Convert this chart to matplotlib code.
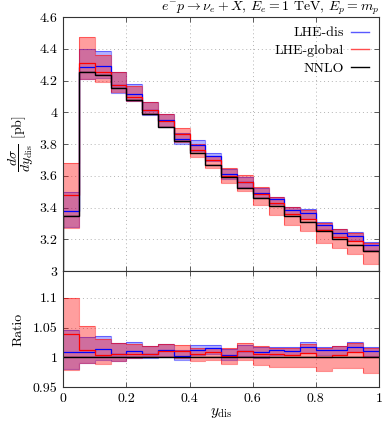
import numpy as np
import matplotlib
matplotlib.use("Agg")
import matplotlib.pyplot as plt
from matplotlib.lines import Line2D

plt.rcParams['font.family'] = ['cmr10', 'DejaVu Serif']
plt.rcParams['mathtext.fontset'] = 'cm'
plt.rcParams['axes.formatter.use_mathtext'] = True
plt.rcParams['axes.unicode_minus'] = False

# ---- data ----
edges = np.round(np.arange(21) * 0.05, 2)

nnlo = [3.346, 4.254, 4.235, 4.151, 4.077, 3.989, 3.905, 3.821, 3.745, 3.668,
        3.594, 3.521, 3.462, 3.410, 3.348, 3.307, 3.252, 3.202, 3.164, 3.128]

# ratios to NNLO
dis_c = [1.009, 1.008, 1.014, 1.005, 1.010, 1.006, 1.012, 1.002, 1.013, 1.015,
         1.004, 1.011, 1.008, 1.012, 1.011, 1.017, 1.012, 1.012, 1.018, 1.011]
dis_hi = [1.046, 1.034, 1.036, 1.024, 1.025, 1.019, 1.022, 1.012, 1.021, 1.021,
          1.014, 1.020, 1.017, 1.017, 1.017, 1.026, 1.018, 1.019, 1.026, 1.018]
dis_lo = [0.980, 0.990, 0.996, 0.993, 0.998, 0.999, 1.001, 0.995, 1.003, 1.006,
          0.996, 1.002, 0.999, 1.003, 1.003, 1.007, 1.003, 1.003, 1.009, 1.002]

glo_c = [1.039, 1.013, 1.004, 1.005, 1.005, 1.006, 1.010, 1.011, 1.005, 1.009,
         1.002, 1.011, 1.006, 1.005, 1.004, 1.007, 1.001, 1.004, 1.008, 1.000]
glo_hi = [1.100, 1.052, 1.030, 1.024, 1.022, 1.019, 1.022, 1.021, 1.015, 1.016,
          1.016, 1.024, 1.019, 1.016, 1.016, 1.023, 1.016, 1.019, 1.024, 1.016]
glo_lo = [0.978, 0.990, 0.989, 0.994, 0.998, 1.000, 1.000, 0.998, 0.993, 0.995,
          0.989, 0.996, 0.987, 0.984, 0.983, 0.984, 0.977, 0.982, 0.982, 0.973]

nnlo_err = 0.0015  # relative

nn = np.array(nnlo)
series = [
    ("LHE-dis", (0, 0, 1), 0.30, np.array(dis_c), np.array(dis_lo), np.array(dis_hi)),
    ("LHE-global", (1, 0, 0), 0.38, np.array(glo_c), np.array(glo_lo), np.array(glo_hi)),
]

W, H = 382, 424
fig = plt.figure(figsize=(W / 100, H / 100), dpi=100)
L, R = 63.3 / W, 379 / W
ax1 = fig.add_axes([L, 1 - 271 / H, R - L, (271 - 17) / H])
ax2 = fig.add_axes([L, 1 - 387 / H, R - L, (387 - 271) / H], sharex=ax1)

for ax in (ax1, ax2):
    ax.grid(True, ls=(0, (1, 3)), color='0.7', lw=0.7)
    ax.set_axisbelow(True)
    for s in ax.spines.values():
        s.set_linewidth(0.8)
        s.set_color('0.2')
    ax.tick_params(direction='in', top=True, right=True, length=3.5,
                   width=0.7, color='0.35', labelsize=10, pad=4)

def draw(ax, scale):
    for name, col, a, c, lo, hi in series:
        ax.stairs(hi * scale, edges, baseline=lo * scale, fill=True,
                  color=col, alpha=a, lw=0)
        ax.stairs(hi * scale, edges, baseline=None, color=col, alpha=0.45, lw=0.8)
        ax.stairs(lo * scale, edges, baseline=None, color=col, alpha=0.45, lw=0.8)
    for name, col, a, c, lo, hi in series:
        ax.stairs(c * scale, edges, baseline=None, color=col, lw=0.9)

# top panel
ax1.stairs(nn * (1 + nnlo_err), edges, baseline=nn * (1 - nnlo_err), fill=True,
           color='0.5', alpha=0.35, lw=0)
draw(ax1, nn)
ax1.stairs(nn, edges, baseline=0, color='black', lw=1.0)
ax1.set_xlim(0, 1)
ax1.set_ylim(3, 4.6)
ax1.set_yticks([3, 3.2, 3.4, 3.6, 3.8, 4, 4.2, 4.4, 4.6])
ax1.set_yticklabels(['3', '3.2', '3.4', '3.6', '3.8', '4', '4.2', '4.4', '4.6'])
ax1.tick_params(labelbottom=False)
ax1.set_ylabel(r'$\dfrac{d\sigma}{dy_{\rm dis}}$ [pb]', fontsize=10, labelpad=3)
ax1.set_title(r'$e^{-}p\rightarrow\nu_e+X$, $E_e=1$ TeV, $E_p=m_p$',
              loc='right', fontsize=10, pad=3)

handles = [Line2D([], [], color=(0.35, 0.35, 1), lw=1.0),
           Line2D([], [], color=(1, 0.3, 0.3), lw=1.0),
           Line2D([], [], color='black', lw=1.0)]
ax1.legend(handles, ['LHE-dis', 'LHE-global', 'NNLO'], loc='upper right',
           frameon=False, markerfirst=False, fontsize=10, handlelength=1.3,
           handletextpad=0.5, labelspacing=0.35, borderaxespad=0.3)

# ratio panel
ones = np.ones_like(nn)
ax2.stairs(ones * (1 + nnlo_err), edges, baseline=ones * (1 - nnlo_err), fill=True,
           color='0.5', alpha=0.35, lw=0)
draw(ax2, 1.0)
ax2.stairs(ones, edges, baseline=None, color='black', lw=1.0)
ax2.set_ylim(0.95, 1.145)
ax2.set_yticks([0.95, 1, 1.05, 1.1])
ax2.set_yticklabels(['0.95', '1', '1.05', '1.1'])
ax2.set_xticks([0, 0.2, 0.4, 0.6, 0.8, 1])
ax2.set_xticklabels(['0', '0.2', '0.4', '0.6', '0.8', '1'])
ax2.set_ylabel('Ratio', fontsize=10, labelpad=6)
ax2.set_xlabel(r'$y_{\rm dis}$', fontsize=11, labelpad=1)

fig.align_ylabels([ax1, ax2])
fig.savefig('out.png', dpi=100)
